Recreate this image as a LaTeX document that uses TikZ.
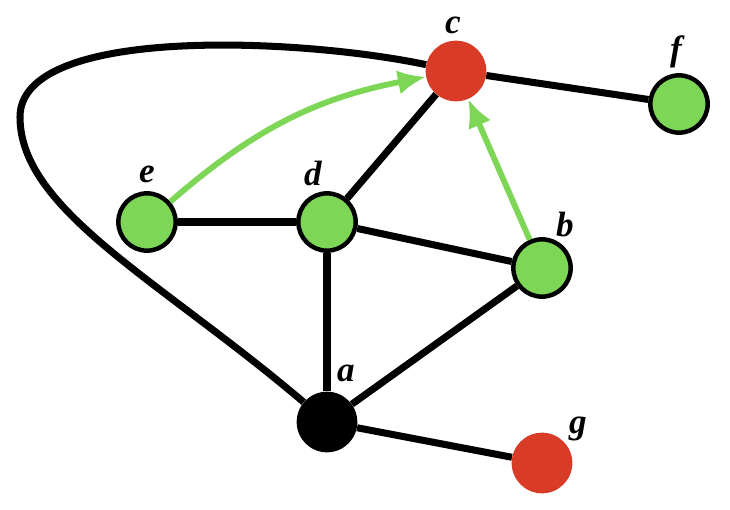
\documentclass[tikz,border=0pt]{standalone}
\usepackage{fontspec}
\setmainfont{Liberation Serif}
\usetikzlibrary{arrows.meta,backgrounds}

\definecolor{vgreen}{RGB}{126,214,87}
\definecolor{vred}{RGB}{216,59,38}

\begin{document}
\begin{tikzpicture}[x=0.03cm,y=-0.03cm,
  vtx/.style={circle,inner sep=0pt,minimum size=1.72cm},
  gvtx/.style={vtx,draw=black,line width=3.8pt,fill=vgreen},
  rvtx/.style={vtx,fill=vred,minimum size=1.82cm},
  bvtx/.style={vtx,fill=black,minimum size=1.82cm},
  lbl/.style={font=\fontsize{30}{32}\selectfont\bfseries\itshape,inner sep=0pt},
  edge/.style={line width=6pt},
  garrow/.style={line width=5pt,draw=vgreen,-{Latex[length=24pt,width=21pt]}}]
\useasboundingbox (0,0) rectangle (730,510);

\node[rvtx] (c) at (456,71) {};
\node[gvtx] (f) at (679,104) {};
\node[gvtx] (e) at (147,222) {};
\node[gvtx] (d) at (327,222) {};
\node[gvtx] (b) at (542,268) {};
\node[bvtx] (a) at (327,422) {};
\node[rvtx] (g) at (542,463) {};

\node[lbl] (lc) at (453,25) {c};
\node[lbl] (lf) at (676,52) {f};
\node[lbl] (le) at (147,174) {e};
\node[lbl] (ld) at (313,173) {d};
\node[lbl] (lb) at (565,225) {b};
\node[lbl] (la) at (346,373) {a};
\node[lbl] (lg) at (578,429) {g};

\coordinate (lft) at (20,117);

\begin{scope}[on background layer]
\draw[edge] (a) .. controls (160,280) and (20,210) .. (lft)
  .. controls (20,25) and (300,38) .. (c);
\draw[edge] (c) -- (f);
\draw[edge] (e) -- (d);
\draw[edge] (d) -- (c);
\draw[edge] (d) -- (b);
\draw[edge] (d) -- (a);
\draw[edge] (a) -- (b);
\draw[edge] (a) -- (g);
\end{scope}

\draw[garrow] (e) to[bend left=15] (c);
\draw[garrow] (b) -- (c);
\end{tikzpicture}
\end{document}
